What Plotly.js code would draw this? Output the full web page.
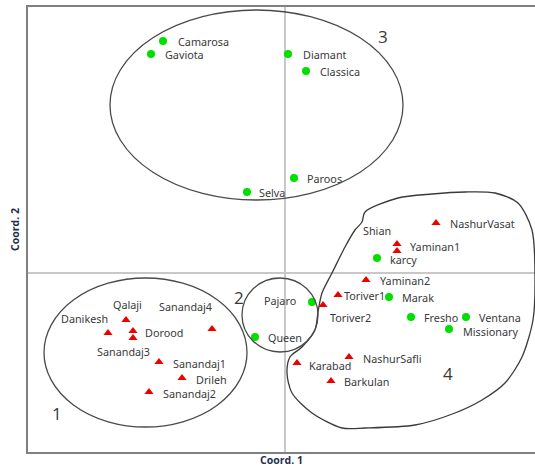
<!DOCTYPE html>
<html>
<head>
<meta charset="utf-8">
<script src="https://cdn.plot.ly/plotly-3.0.1.min.js"></script>
<style>html,body{margin:0;padding:0;background:#fff;}#chart{width:535px;height:474px;}</style>
</head>
<body>
<div id="chart"></div>
<script>
// ---- Data (Coord. 1, Coord. 2) ----
var greenNames = ["Camarosa","Gaviota","Diamant","Classica","Paroos","Selva","Pajaro","Queen","karcy","Marak","Fresho","Ventana","Missionary"];
var greenX = [-1.22,-1.34,0.03,0.21,0.09,-0.38,0.27,-0.30,0.92,1.04,1.26,1.81,1.64];
var greenY = [2.32,2.19,2.19,2.02,0.95,0.81,-0.29,-0.64,0.15,-0.24,-0.44,-0.44,-0.56];

var redNames = ["NashurVasat","Yaminan1","Shian","Yaminan2","Toriver1","Toriver2","NashurSafli","Karabad","Barkulan","Qalaji","Danikesh","Dorood","Sanandaj3","Sanandaj4","Sanandaj1","Drileh","Sanandaj2"];
var redX = [1.51,1.12,1.12,0.81,0.53,0.38,0.64,0.12,0.46,-1.59,-1.77,-1.52,-1.52,-0.73,-1.26,-1.03,-1.36];
var redY = [0.50,0.29,0.22,-0.07,-0.22,-0.32,-0.84,-0.90,-1.08,-0.47,-0.60,-0.58,-0.65,-0.56,-0.89,-1.05,-1.19];

// group numbers
var groupLabels = ["1","2","3","4"];
var groupX = [-2.28,-0.46,0.98,1.63];
var groupY = [-1.40,-0.24,2.37,-1.00];

// group 4 boundary (hand-drawn outline)
var g4X = [0.77,0.80,1.13,1.47,1.80,2.10,2.33,2.47,2.50,2.48,2.37,2.20,1.97,1.70,1.30,0.80,0.57,0.27,0.07,0.02,0.05,0.17,0.30,0.33,0.37,0.47,0.60,0.70,0.77];
var g4Y = [0.51,0.61,0.75,0.79,0.81,0.80,0.70,0.43,-0.07,-0.47,-0.84,-1.10,-1.27,-1.40,-1.52,-1.55,-1.55,-1.40,-1.20,-1.00,-0.84,-0.74,-0.57,-0.39,-0.20,0.00,0.26,0.43,0.51];

// group 1-3 ellipses [x0,x1,y0,y1]
var ellipses = [[-2.41,-0.38,-1.54,-0.05],[-0.43,0.33,-0.79,-0.05],[-1.75,1.18,0.73,2.63]];

// ---- label placement (anchor, dx px, dy px down) ----
var labelPos = {
  Camarosa:["left",13,0], Gaviota:["left",12,0], Diamant:["left",13,0], Classica:["left",12,0],
  Paroos:["left",11,0], Selva:["left",10,0], Pajaro:["right",-14,-2], Queen:["left",11,0],
  karcy:["left",11,1], Marak:["left",11,0], Fresho:["left",11,0], Ventana:["left",11,0],
  Missionary:["left",12,2], NashurVasat:["left",12,0], Yaminan1:["left",11,2], Shian:["center",-20,-21],
  Yaminan2:["left",12,0], Toriver1:["left",4,0], Toriver2:["left",5,12], NashurSafli:["left",12,1],
  Karabad:["left",10,2], Barkulan:["left",11,0], Qalaji:["center",1,-16], Danikesh:["right",2,-15],
  Dorood:["left",10,1], Sanandaj3:["center",-10,13], Sanandaj4:["center",-27,-23],
  Sanandaj1:["left",12,1], Drileh:["left",12,1], Sanandaj2:["left",12,1]
};

var labelFont = {family:"Noto Sans, Open Sans, sans-serif", size:10.8, color:"#3a3a3a"};
var annotations = [];
function addLabels(names, xs, ys){
  for (var i=0;i<names.length;i++){
    var p = labelPos[names[i]] || ["left",10,0];
    annotations.push({x:xs[i], y:ys[i], xref:"x", yref:"y", text:names[i], showarrow:false,
      xanchor:p[0], yanchor:"middle", xshift:p[1], yshift:-p[2], font:labelFont});
  }
}
addLabels(greenNames, greenX, greenY);
addLabels(redNames, redX, redY);
for (var k=0;k<groupLabels.length;k++){
  annotations.push({x:groupX[k], y:groupY[k], xref:"x", yref:"y", text:groupLabels[k], showarrow:false,
    font:{family:"Open Sans, sans-serif", size:17, color:"#3a3a3a"}});
}

var shapes = ellipses.map(function(e){
  return {type:"circle", xref:"x", yref:"y", x0:e[0], x1:e[1], y0:e[2], y1:e[3],
    line:{color:"#4a4a4a", width:1.3}, fillcolor:"rgba(0,0,0,0)", layer:"above"};
});

var traces = [
  {x:g4X, y:g4Y, mode:"lines", line:{color:"#3a3a3a", width:1.3, shape:"spline", smoothing:0.8}, hoverinfo:"skip", showlegend:false},
  {x:greenX, y:greenY, mode:"markers", marker:{symbol:"circle", size:8, color:"#00e000"}, text:greenNames, showlegend:false},
  {x:redX, y:redY, mode:"markers", marker:{symbol:"triangle-up", size:8, color:"#ee0000"}, text:redNames, showlegend:false}
];

var layout = {
  width:535, height:474,
  margin:{l:28, r:0, t:7, b:22},
  paper_bgcolor:"#fff", plot_bgcolor:"#fff",
  showlegend:false,
  xaxis:{range:[-2.57,2.50], showgrid:false, showticklabels:false, ticks:"",
    zeroline:true, zerolinecolor:"#c8c8c8", zerolinewidth:1.5,
    showline:true, mirror:true, linecolor:"#808080", linewidth:2,
    title:{text:"<b>Coord. 1</b>", standoff:4, font:{family:"Open Sans, sans-serif", size:10.5, color:"#1f2f4f"}}},
  yaxis:{range:[-1.79,2.66], showgrid:false, showticklabels:false, ticks:"",
    zeroline:true, zerolinecolor:"#c8c8c8", zerolinewidth:1.5,
    showline:true, mirror:false, linecolor:"#808080", linewidth:2,
    title:{text:"<b>Coord. 2</b>", standoff:4, font:{family:"Open Sans, sans-serif", size:10.5, color:"#1f2f4f"}}},
  shapes:shapes,
  annotations:annotations
};

Plotly.newPlot("chart", traces, layout, {displayModeBar:false, staticPlot:true});
</script>
</body>
</html>
